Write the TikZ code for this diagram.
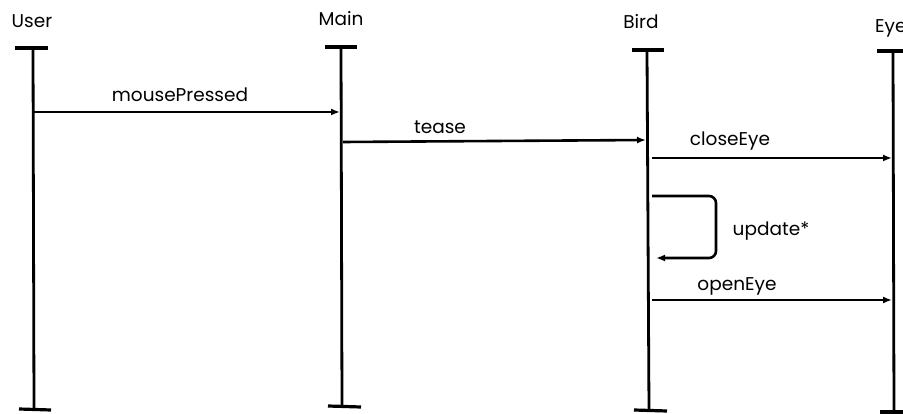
\documentclass[tikz,border=0pt]{standalone}
\usepackage{fontspec}
\setmainfont{Poppins}
\usetikzlibrary{arrows.meta}
\begin{document}
\begin{tikzpicture}[x=1pt,y=-1pt,
  lifeline/.style={line width=2.8pt},
  capbar/.style={line width=3.2pt},
  msg/.style={line width=2.6pt,-{Latex[length=9pt,width=7pt]}},
  head/.style={font=\fontsize{18.5}{21}\selectfont,inner sep=0pt},
  lbl/.style={font=\fontsize{18.5}{21}\selectfont,inner sep=0pt}]
\useasboundingbox (0,0) rectangle (903,414);
% heads
\node[head] (hUser) at (32,21) {User};
\node[head] (hMain) at (341,19) {Main};
\node[head] (hBird) at (641,22) {Bird};
\node[head,anchor=west] (hEye) at (875,28) {Eye};
% lifeline ends
\coordinate (uT) at (33,48);  \coordinate (uB) at (34,409);
\coordinate (mT) at (341,47); \coordinate (mB) at (342,407);
\coordinate (bT) at (647,50); \coordinate (bB) at (649,410);
\coordinate (eT) at (893,51); \coordinate (eB) at (894,411);
\draw[lifeline] (uT) -- (uB);
\draw[lifeline] (mT) -- (mB);
\draw[lifeline] (bT) -- (bB);
\draw[lifeline] (eT) -- (eB);
\draw[capbar] (15,48) -- (48,48);
\draw[capbar] (325,47) -- (357,47);
\draw[capbar] (632,50) -- (664,50);
\draw[capbar] (877,51) -- (903,51);
\draw[capbar] (19,409) -- (51,410);
\draw[capbar] (328,406) -- (361,407);
\draw[capbar] (634,410) -- (667,411);
\draw[capbar] (880,412) -- (903,412);
% messages
\coordinate (m1s) at (33,112);  \coordinate (m1e) at (340,112);
\draw[msg] (m1s) -- (m1e);
\node[lbl] (l1) at (180,95) {mousePressed};
\coordinate (m2s) at (343,142); \coordinate (m2e) at (646,140);
\draw[msg] (m2s) -- (m2e);
\node[lbl] (l2) at (440,127) {tease};
\coordinate (m3s) at (652,158); \coordinate (m3e) at (892,158);
\draw[msg] (m3s) -- (m3e);
\node[lbl] (l3) at (730,141) {closeEye};
\coordinate (m4s) at (652,196); \coordinate (m4e) at (656,258);
\draw[msg,rounded corners=7pt] (m4s) -- (716,196) -- (716,258) -- (m4e);
\node[lbl] (l4) at (771,231) {update*};
\coordinate (m5s) at (652,300); \coordinate (m5e) at (892,300);
\draw[msg] (m5s) -- (m5e);
\node[lbl] (l5) at (737,286) {openEye};
\end{tikzpicture}
\end{document}
